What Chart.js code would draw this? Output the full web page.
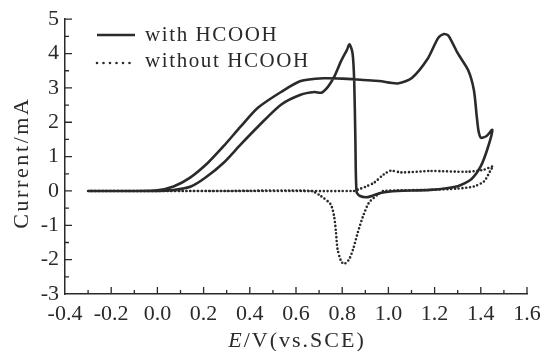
<!DOCTYPE html>
<html>
<head>
<meta charset="utf-8">
<script src="https://cdn.jsdelivr.net/npm/chart.js@4.4.0/dist/chart.umd.min.js"></script>
<style>
  html, body { margin: 0; padding: 0; background: #fff; }
  #wrap { width: 552px; height: 351px; }
</style>
</head>
<body>
<div id="wrap"><canvas id="cv"></canvas></div>
<script>
// potential (V vs SCE) and current (mA), forward scan then reverse scan
const withE = [-0.30, -0.10, 0.00, 0.07, 0.14, 0.22, 0.29, 0.36, 0.435, 0.535, 0.62, 0.72, 0.80, 0.89, 0.96, 1.04, 1.10, 1.17, 1.215, 1.24, 1.26, 1.30, 1.345, 1.37, 1.382, 1.39, 1.40, 1.425, 1.45,
               1.43, 1.40, 1.36, 1.30, 1.18, 1.04, 0.97, 0.91, 0.875, 0.862, 0.857, 0.852, 0.845, 0.832, 0.82, 0.795, 0.765, 0.738, 0.71, 0.68, 0.62, 0.535, 0.435, 0.36, 0.288, 0.21, 0.145, 0.07, 0.00, -0.30];
const withI = [0.00, 0.00, 0.02, 0.13, 0.38, 0.83, 1.33, 1.87, 2.42, 2.88, 3.20, 3.28, 3.27, 3.23, 3.20, 3.13, 3.28, 3.85, 4.45, 4.57, 4.52, 4.01, 3.52, 2.94, 2.20, 1.75, 1.55, 1.60, 1.78,
               1.25, 0.72, 0.35, 0.14, 0.03, 0.00, -0.05, -0.18, -0.14, -0.02, 1.50, 3.20, 4.00, 4.27, 4.10, 3.78, 3.32, 3.03, 2.86, 2.88, 2.80, 2.51, 1.87, 1.35, 0.83, 0.40, 0.13, 0.03, 0.00, 0.00];
const withoutE = [-0.30, 0.00, 0.40, 0.85, 0.868, 0.90, 0.938, 0.98, 1.01, 1.055, 1.18, 1.345, 1.414, 1.453,
                  1.444, 1.414, 1.37, 1.30, 1.18, 0.98, 0.955, 0.916, 0.89, 0.868, 0.847, 0.83, 0.808, 0.795, 0.78, 0.773, 0.765, 0.75, 0.708, 0.665, 0.30, -0.30];
const withoutI = [0.00, 0.00, 0.00, 0.00, 0.04, 0.12, 0.24, 0.48, 0.59, 0.54, 0.58, 0.56, 0.62, 0.72,
                  0.62, 0.28, 0.13, 0.07, 0.03, 0.00, -0.10, -0.34, -0.74, -1.20, -1.70, -1.99, -2.13, -2.04, -1.70, -1.20, -0.74, -0.39, -0.15, 0.00, 0.00, 0.00];
const seriesLabels = ['with HCOOH', 'without HCOOH'];
const xTicks = [-0.4, -0.2, 0.0, 0.2, 0.4, 0.6, 0.8, 1.0, 1.2, 1.4, 1.6];
const yTicks = [-3, -2, -1, 0, 1, 2, 3, 4, 5];

const ink = '#2a2a2a';
const serif = "'Liberation Serif', 'Times New Roman', serif";

function zip(xs, ys) {
  return xs.map((v, i) => ({ x: v, y: ys[i] }));
}

const decor = {
  id: 'decor',
  beforeDraw(chart) {
    chart.ctx.letterSpacing = '0px';
  },
  afterDraw(chart) {
    const { ctx, chartArea: a, scales: { x, y } } = chart;
    ctx.save();
    ctx.strokeStyle = ink;
    ctx.lineWidth = 1.3;
    ctx.beginPath();
    // inward ticks, major + minor halfway
    x.ticks.forEach((t, i) => {
      const px = x.getPixelForValue(t.value);
      if (i > 0) { ctx.moveTo(px, a.bottom); ctx.lineTo(px, a.bottom - 7); }
      if (i < x.ticks.length - 1) {
        const m = x.getPixelForValue((t.value + x.ticks[i + 1].value) / 2);
        ctx.moveTo(m, a.bottom); ctx.lineTo(m, a.bottom - 4);
      }
    });
    y.ticks.forEach((t, i) => {
      const py = y.getPixelForValue(t.value);
      if (i > 0) { ctx.moveTo(a.left, py); ctx.lineTo(a.left + 7, py); }
      if (i < y.ticks.length - 1) {
        const m = y.getPixelForValue((t.value + y.ticks[i + 1].value) / 2);
        ctx.moveTo(a.left, m); ctx.lineTo(a.left + 4, m);
      }
    });
    ctx.stroke();

    // axis titles
    ctx.fillStyle = ink;
    ctx.letterSpacing = '2px';
    ctx.textBaseline = 'middle';
    const cx = (a.left + a.right) / 2 + 1;
    ctx.font = 'italic 22px ' + serif;
    const wE = ctx.measureText('E').width;
    ctx.font = '22px ' + serif;
    const wRest = ctx.measureText('/V(vs.SCE)').width;
    let sx = cx - (wE + wRest) / 2;
    ctx.textAlign = 'left';
    ctx.font = 'italic 22px ' + serif;
    ctx.fillText('E', sx, 341);
    ctx.font = '22px ' + serif;
    ctx.fillText('/V(vs.SCE)', sx + wE, 341);

    ctx.save();
    ctx.translate(22, (a.top + a.bottom) / 2 + 6);
    ctx.rotate(-Math.PI / 2);
    ctx.textAlign = 'center';
    ctx.letterSpacing = '2.6px';
    ctx.font = '22px ' + serif;
    ctx.fillText('Current/mA', 0, 0);
    ctx.restore();

    // legend
    const rows = [35, 61];
    chart.data.datasets.forEach((ds, i) => {
      const ly = rows[i];
      ctx.save();
      ctx.strokeStyle = ds.borderColor;
      ctx.lineWidth = ds.borderWidth;
      ctx.lineCap = ds.borderCapStyle || 'butt';
      ctx.setLineDash(i === 0 ? [] : [0, 6.5]);
      ctx.beginPath();
      ctx.moveTo(97, i === 0 ? ly : ly + 2);
      ctx.lineTo(i === 0 ? 135 : 131, i === 0 ? ly : ly + 2);
      ctx.stroke();
      ctx.restore();
      ctx.textAlign = 'left';
      ctx.letterSpacing = '1.6px';
      ctx.font = '21px ' + serif;
      ctx.fillText(ds.label, 145, ly);
    });
    ctx.letterSpacing = '0px';
    ctx.restore();
    ctx.letterSpacing = '0px';
  }
};

new Chart(document.getElementById('cv'), {
  type: 'scatter',
  data: {
    datasets: [
      {
        label: seriesLabels[0],
        data: zip(withE, withI),
        showLine: true,
        borderColor: ink,
        borderWidth: 2.6,
        pointRadius: 0,
        tension: 0.25,
        borderJoinStyle: 'round'
      },
      {
        label: seriesLabels[1],
        data: zip(withoutE, withoutI),
        showLine: true,
        borderColor: ink,
        borderWidth: 2.6,
        borderDash: [0, 3.8],
        borderCapStyle: 'round',
        pointRadius: 0,
        tension: 0.25
      }
    ]
  },
  options: {
    responsive: true,
    maintainAspectRatio: false,
    animation: false,
    layout: { padding: { top: 19, right: 25, left: 0, bottom: 0 } },
    plugins: { legend: { display: false }, tooltip: { enabled: false } },
    scales: {
      x: {
        type: 'linear',
        min: -0.4,
        max: 1.6,
        afterBuildTicks: s => { s.ticks = xTicks.map(v => ({ value: v })); },
        afterFit: s => { s.height = 57; },
        grid: { display: false, drawTicks: false },
        border: { display: true, color: ink, width: 1.5 },
        ticks: {
          autoSkip: false,
          maxRotation: 0,
          padding: 7,
          color: ink,
          font: { family: serif, size: 22 },
          callback: v => v.toFixed(1)
        }
      },
      y: {
        min: -3,
        max: 5,
        afterBuildTicks: s => { s.ticks = yTicks.map(v => ({ value: v })); },
        afterFit: s => { s.width = 65; },
        grid: { display: false, drawTicks: false },
        border: { display: true, color: ink, width: 1.5 },
        ticks: {
          autoSkip: false,
          padding: 6,
          color: ink,
          font: { family: serif, size: 22 },
          callback: v => String(v)
        }
      }
    }
  },
  plugins: [decor]
});
</script>
</body>
</html>
